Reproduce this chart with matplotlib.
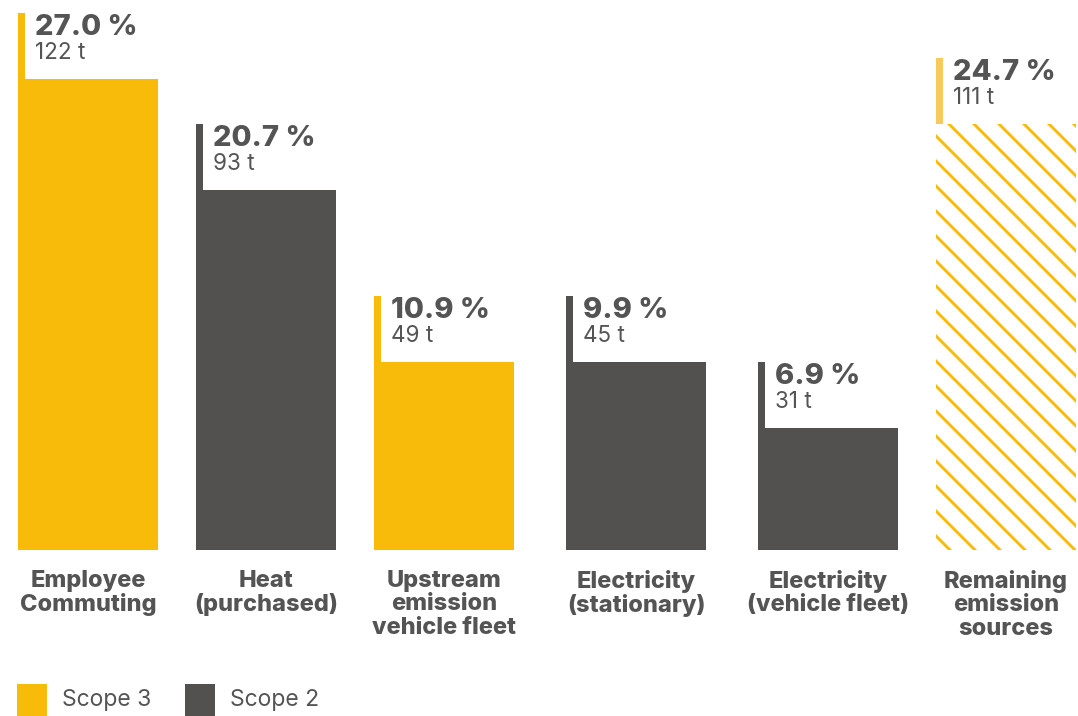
import matplotlib
matplotlib.use('Agg')
import matplotlib.pyplot as plt
from matplotlib.patches import Rectangle

plt.rcParams['font.family'] = ['Inter', 'DejaVu Sans']
plt.rcParams['hatch.linewidth'] = 1.4

# %% data
categories = ['Employee\nCommuting', 'Heat\n(purchased)', 'Upstream\nemission\nvehicle fleet',
              'Electricity\n(stationary)', 'Electricity\n(vehicle fleet)', 'Remaining\nemission\nsources']
shares = [27.0, 20.7, 10.9, 9.9, 6.9, 24.7]
tonnes = [122, 93, 49, 45, 31, 111]
# bar heights as drawn in the source (stationary electricity is drawn level with upstream)
bar_height = [122, 93.3, 48.7, 48.7, 31.6, 110.4]
scopes = ['Scope 3', 'Scope 2', 'Scope 3', 'Scope 2', 'Scope 2', 'remaining']

# %% style
yellow = '#F9BB0A'
grey = '#525150'
light_yellow = '#FAC95B'
text_col = '#545454'
colors = {'Scope 3': yellow, 'Scope 2': grey}

W, H, DPI = 1078, 716, 150
base_px = 550            # baseline, pixels from top
px_per_t = 3.86
centers = [88, 266, 444, 636, 828, 1006]
width = 140
stem = 66 / px_per_t     # label stem above bar, in t
stem_w = 7

fig = plt.figure(figsize=(W / DPI, H / DPI), dpi=DPI)
ax = fig.add_axes([0, (H - base_px) / H, 1, base_px / H])
ax.set_xlim(0, W)
ax.set_ylim(0, base_px / px_per_t)
ax.axis('off')

for i, c in enumerate(centers):
    left = c - width / 2
    h = bar_height[i]
    if scopes[i] == 'remaining':
        ax.bar(c, h, width=width, color='white', edgecolor=yellow, hatch='\\\\',
               linewidth=0)
        stem_col = light_yellow
    else:
        ax.bar(c, h, width=width, color=colors[scopes[i]], linewidth=0)
        stem_col = colors[scopes[i]]
    ax.add_patch(Rectangle((left, h), stem_w, stem, color=stem_col, linewidth=0))
    top = h + stem
    ax.annotate('%.1f %%' % shares[i], (left, top), xytext=(17 * 72 / DPI, -22 * 72 / DPI),
                textcoords='offset points', fontsize=14, fontweight='heavy',
                color=text_col, va='baseline', ha='left')
    ax.annotate('%d t' % tonnes[i], (left, top), xytext=(17 * 72 / DPI, -46 * 72 / DPI),
                textcoords='offset points', fontsize=10.8, color=text_col,
                va='baseline', ha='left')
    fig.text(c / W, 1 - 570 / H, categories[i], ha='center', va='top', fontsize=11.3,
             fontweight='heavy', color=text_col, linespacing=1.08)

# legend
for x0, lab, col in [(17, 'Scope 3', yellow), (185, 'Scope 2', grey)]:
    fig.patches.append(Rectangle((x0 / W, 0), 30 / W, 32 / H, transform=fig.transFigure,
                                 color=col, linewidth=0))
    fig.text((x0 + 45) / W, 1 - 700 / H, lab, ha='left', va='center', fontsize=11,
             color=text_col)

fig.savefig('out.png', dpi=DPI)
